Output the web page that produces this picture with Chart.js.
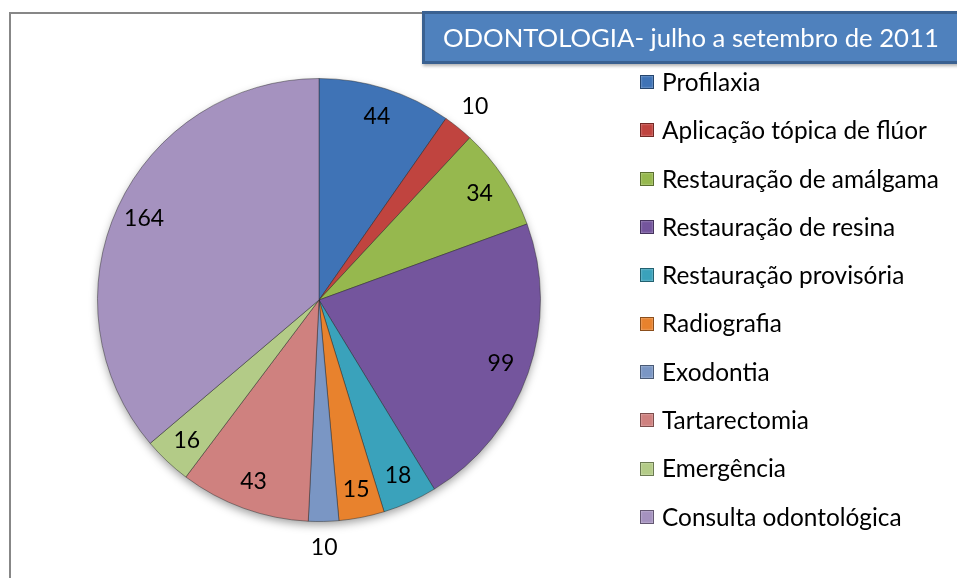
<!DOCTYPE html>
<html>
<head>
<meta charset="utf-8">
<script src="https://cdn.jsdelivr.net/npm/chart.js@4/dist/chart.umd.min.js"></script>
<style>
  html, body { margin: 0; padding: 0; background: #fff; overflow: hidden; }
  #wrap { position: relative; width: 957px; height: 578px; font-family: Lato, "Noto Sans", sans-serif; }
  #frame { position: absolute; left: 9px; top: 12px; width: 1000px; height: 1000px; border: 2px solid #878787; box-sizing: border-box; }
  #chart { position: absolute; left: 0; top: 0; }
  #title {
    position: absolute; left: 422px; top: 11px; width: 560px; height: 53px;
    box-sizing: border-box; background: #4F81BD; border: 3px solid #3A6191;
    color: #fff; font-size: 25.7px; line-height: 46px; padding-left: 18px;
    box-shadow: 1px 2px 3px rgba(0,0,0,0.3); white-space: nowrap;
  }
  #legend { position: absolute; left: 640px; top: 58px; margin: 0; padding: 0; list-style: none; }
  #legend li { height: 48.3px; line-height: 48.3px; font-size: 24.4px; color: #000; white-space: nowrap; display: flex; align-items: center; }
  #legend span.box { width: 12px; height: 12px; margin-right: 8px; border: 1px solid rgba(0,0,0,0.4); box-shadow: inset 0 0 2px rgba(255,255,255,0.6); }
</style>
</head>
<body>
<div id="wrap">
  <div id="frame"></div>
  <canvas id="chart" width="957" height="578"></canvas>
  <div id="title">ODONTOLOGIA- julho a setembro de 2011</div>
  <ul id="legend"></ul>
</div>
<script>
// Data
const categories = ['Profilaxia', 'Aplicação tópica de flúor', 'Restauração de amálgama', 'Restauração de resina',
  'Restauração provisória', 'Radiografia', 'Exodontia', 'Tartarectomia', 'Emergência', 'Consulta odontológica'];
const values = [44, 10, 34, 99, 18, 15, 10, 43, 16, 164];
const colors = ['#3F73B6', '#C0443F', '#96B84E', '#74559D', '#3AA2BB', '#E8822D', '#7A96C4', '#CF817F', '#B3CB87', '#A592BF'];

// Legend (HTML)
const legendEl = document.getElementById('legend');
categories.forEach((name, i) => {
  const li = document.createElement('li');
  const box = document.createElement('span');
  box.className = 'box';
  box.style.background = colors[i];
  li.appendChild(box);
  li.appendChild(document.createTextNode(name));
  legendEl.appendChild(li);
});

// Shadow behind the pie
const pieShadow = {
  id: 'pieShadow',
  beforeDatasetsDraw(chart) {
    const arc = chart.getDatasetMeta(0).data[0];
    if (!arc) return;
    const ctx = chart.ctx;
    ctx.save();
    ctx.shadowColor = 'rgba(0,0,0,0.4)';
    ctx.shadowBlur = 10;
    ctx.shadowOffsetY = 4;
    ctx.beginPath();
    ctx.arc(arc.x, arc.y, arc.outerRadius - 1, 0, Math.PI * 2);
    ctx.fillStyle = '#888';
    ctx.fill();
    ctx.restore();
  }
};

// Value labels
const valueLabels = {
  id: 'valueLabels',
  afterDatasetsDraw(chart) {
    const ctx = chart.ctx;
    const meta = chart.getDatasetMeta(0);
    const total = values.reduce((a, b) => a + b, 0);
    ctx.save();
    ctx.font = '23px Lato, "Noto Sans", sans-serif';
    ctx.fillStyle = '#000';
    ctx.textAlign = 'center';
    ctx.textBaseline = 'middle';
    meta.data.forEach((arc, i) => {
      const mid = (arc.startAngle + arc.endAngle) / 2;
      const outside = values[i] / total < 0.03;
      const r = arc.outerRadius * (outside ? 1.12 : 0.87);
      ctx.fillText(String(values[i]), arc.x + Math.cos(mid) * r, arc.y + Math.sin(mid) * r);
    });
    ctx.restore();
  }
};

new Chart(document.getElementById('chart'), {
  type: 'pie',
  data: {
    labels: categories,
    datasets: [{
      data: values,
      backgroundColor: colors,
      borderColor: 'rgba(40,40,40,0.45)',
      borderWidth: 1
    }]
  },
  options: {
    responsive: false,
    animation: false,
    devicePixelRatio: 1,
    layout: { padding: { left: 97, right: 416, top: 78, bottom: 56 } },
    plugins: {
      legend: { display: false },
      tooltip: { enabled: false }
    }
  },
  plugins: [pieShadow, valueLabels]
});
</script>
</body>
</html>
